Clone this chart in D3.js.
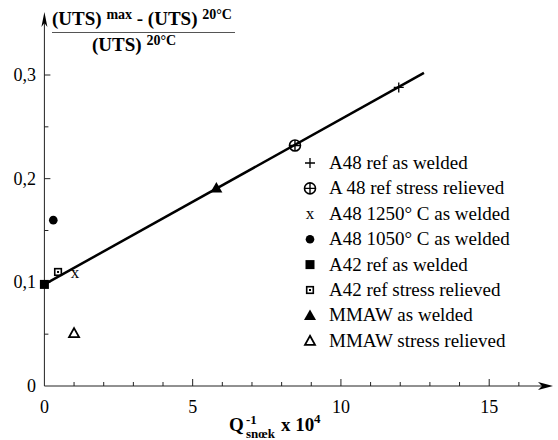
<!DOCTYPE html>
<html>
<head>
<meta charset="utf-8">
<script src="https://cdn.jsdelivr.net/npm/d3@7/dist/d3.min.js"></script>
<style>
  html, body { margin: 0; padding: 0; background: #fff; }
  svg { display: block; }
  text { font-family: "Liberation Serif", "Times New Roman", serif; fill: #000; }
</style>
</head>
<body>
<svg id="chart" width="558" height="440"></svg>
<script>
// Series: one point per weld condition
const seriesNames = [
  "A48 ref as welded",
  "A 48 ref stress relieved",
  "A48 1250° C as welded",
  "A48 1050° C as welded",
  "A42 ref as welded",
  "A42 ref stress relieved",
  "MMAW as welded",
  "MMAW stress relieved"
];
const seriesKeys = ["plus", "circlePlus", "cross", "dot", "square", "squareOpen", "triangle", "triangleOpen"];
const qValues = [11.95, 8.45, 1.03, 0.3, 0.0, 0.46, 5.8, 1.0];
const utsValues = [0.288, 0.232, 0.109, 0.160, 0.098, 0.110, 0.191, 0.051];

// Fitted trend line (start and end)
const fitQ = [0, 12.8];
const fitUTS = [0.098, 0.302];

const xTicksMajor = [0, 5, 10, 15];
const xTicksMinor = d3.range(0, 17, 1);
const yTicksMajor = [0, 0.1, 0.2, 0.3];
const yTickLabels = ["0", "0,1", "0,2", "0,3"];
const yTicksMinor = [0.05, 0.15, 0.25];

const svg = d3.select("#chart");
const x = d3.scaleLinear().domain([0, 15]).range([44.4, 489.2]);
const y = d3.scaleLinear().domain([0, 0.3]).range([386, 75]);

const axisColor = "#222";

// x axis line with arrow head
svg.append("line").attr("x1", x(0)).attr("x2", 545).attr("y1", y(0)).attr("y2", y(0))
  .attr("stroke", axisColor).attr("stroke-width", 1);
svg.append("path").attr("d", `M553,${y(0)} L538,${y(0) - 4} L542,${y(0)} L538,${y(0) + 4} Z`).attr("fill", "#000");

// y axis line with arrow head
svg.append("line").attr("x1", x(0)).attr("x2", x(0)).attr("y1", y(0)).attr("y2", 20)
  .attr("stroke", axisColor).attr("stroke-width", 1);
svg.append("path").attr("d", `M${x(0)},12 L${x(0) - 3},27 L${x(0)},23 L${x(0) + 3},27 Z`).attr("fill", "#000");

// x ticks (pointing up)
svg.selectAll(".xminor").data(xTicksMinor.filter(d => d > 0)).enter().append("line")
  .attr("x1", d => x(d)).attr("x2", d => x(d))
  .attr("y1", y(0)).attr("y2", d => y(0) - (d % 5 === 0 ? 7 : 4))
  .attr("stroke", axisColor).attr("stroke-width", 1);
svg.selectAll(".xlab").data(xTicksMajor).enter().append("text")
  .attr("x", d => x(d)).attr("y", 413).attr("text-anchor", "middle")
  .attr("font-size", 18).text(d => d);

// y ticks (pointing right)
svg.selectAll(".ymajor").data(yTicksMajor.filter(d => d > 0)).enter().append("line")
  .attr("x1", x(0)).attr("x2", x(0) + 6).attr("y1", d => y(d)).attr("y2", d => y(d))
  .attr("stroke", axisColor).attr("stroke-width", 1);
svg.selectAll(".yminor").data(yTicksMinor).enter().append("line")
  .attr("x1", x(0)).attr("x2", x(0) + 4).attr("y1", d => y(d)).attr("y2", d => y(d))
  .attr("stroke", axisColor).attr("stroke-width", 1);
svg.selectAll(".ylab").data(yTicksMajor).enter().append("text")
  .attr("x", 36).attr("y", d => y(d) + 6).attr("text-anchor", "end")
  .attr("font-size", 18).text((d, i) => yTickLabels[i]);

// y axis title: (UTS)max - (UTS)20°C over (UTS)20°C
const yt = svg.append("text").attr("x", 52).attr("y", 25).attr("font-weight", "bold").attr("font-size", 19);
yt.append("tspan").text("(UTS) ");
yt.append("tspan").attr("font-size", 14).attr("dy", -6).text("max");
yt.append("tspan").attr("dy", 6).text(" - (UTS) ");
yt.append("tspan").attr("font-size", 14).attr("dy", -6).text("20°C");
svg.append("line").attr("x1", 52).attr("x2", 235).attr("y1", 32.5).attr("y2", 32.5)
  .attr("stroke", "#555").attr("stroke-width", 1);
const yb = svg.append("text").attr("x", 92).attr("y", 51).attr("font-weight", "bold").attr("font-size", 19);
yb.append("tspan").text("(UTS) ");
yb.append("tspan").attr("font-size", 14).attr("dy", -6).text("20°C");

// x axis title: Q^-1 with subscript snœk, then x 10^4
const xl = svg.append("g").attr("font-weight", "bold");
xl.append("text").attr("x", 229).attr("y", 431).attr("font-size", 19).text("Q");
xl.append("text").attr("x", 246).attr("y", 424).attr("font-size", 13).text("-1");
xl.append("text").attr("x", 246).attr("y", 438).attr("font-size", 13).text("snœk");
xl.append("text").attr("x", 281).attr("y", 431).attr("font-size", 19).text("x 10");
xl.append("text").attr("x", 314).attr("y", 423).attr("font-size", 13).text("4");

// trend line
svg.append("line")
  .attr("x1", x(fitQ[0])).attr("y1", y(fitUTS[0]))
  .attr("x2", x(fitQ[1])).attr("y2", y(fitUTS[1]))
  .attr("stroke", "#000").attr("stroke-width", 2.5);

// marker drawing
function drawMarker(g, key, cx, cy) {
  switch (key) {
    case "plus":
      g.append("path").attr("d", `M${cx - 5},${cy} H${cx + 5} M${cx},${cy - 5} V${cy + 5}`)
        .attr("stroke", "#000").attr("stroke-width", 1.3).attr("fill", "none");
      break;
    case "circlePlus":
      g.append("circle").attr("cx", cx).attr("cy", cy).attr("r", 5.5)
        .attr("fill", "none").attr("stroke", "#000").attr("stroke-width", 1.6);
      g.append("path").attr("d", `M${cx - 5.5},${cy} H${cx + 5.5} M${cx},${cy - 5.5} V${cy + 5.5}`)
        .attr("stroke", "#000").attr("stroke-width", 1.4);
      break;
    case "cross":
      g.append("text").attr("x", cx).attr("y", cy + 5).attr("text-anchor", "middle")
        .attr("font-size", 17).text("x");
      break;
    case "dot":
      g.append("circle").attr("cx", cx).attr("cy", cy).attr("r", 4.3).attr("fill", "#000");
      break;
    case "square":
      g.append("rect").attr("x", cx - 4.5).attr("y", cy - 4.5).attr("width", 9).attr("height", 9).attr("fill", "#000");
      break;
    case "squareOpen":
      g.append("rect").attr("x", cx - 3.3).attr("y", cy - 3.3).attr("width", 6.6).attr("height", 6.6)
        .attr("fill", "none").attr("stroke", "#000").attr("stroke-width", 1.6);
      g.append("rect").attr("x", cx - 1).attr("y", cy - 1).attr("width", 2).attr("height", 2).attr("fill", "#000");
      break;
    case "triangle":
      g.append("path").attr("d", `M${cx},${cy - 6} L${cx + 6},${cy + 4.5} L${cx - 6},${cy + 4.5} Z`).attr("fill", "#000");
      break;
    case "triangleOpen":
      g.append("path").attr("d", `M${cx},${cy - 5} L${cx + 5},${cy + 4} L${cx - 5},${cy + 4} Z`)
        .attr("fill", "none").attr("stroke", "#000").attr("stroke-width", 1.8).attr("stroke-linejoin", "miter");
      break;
  }
}

// data points
const pts = svg.append("g");
seriesKeys.forEach((k, i) => drawMarker(pts, k, x(qValues[i]), y(utsValues[i])));

// legend
const legend = svg.append("g");
const legendY0 = 163, legendStep = 25.4;
seriesNames.forEach((name, i) => {
  const ly = legendY0 + i * legendStep;
  drawMarker(legend, seriesKeys[i], 310, ly);
  legend.append("text").attr("x", 329).attr("y", ly + 6).attr("font-size", 19).text(name);
});
</script>
</body>
</html>
